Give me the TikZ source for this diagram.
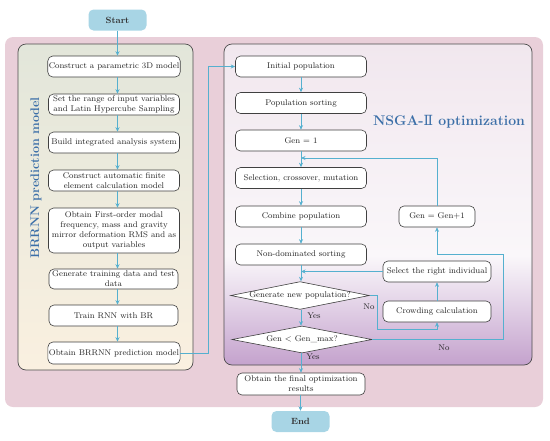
\documentclass[tikz,border=0pt]{standalone}
\usepackage{fontspec}
\newfontfamily\iifont{DejaVu Serif}
\usetikzlibrary{shapes.geometric,arrows.meta}
\definecolor{pinkbg}{HTML}{E9CFD9}
\definecolor{termblue}{HTML}{A8D5E5}
\definecolor{arrblue}{HTML}{55B0CF}
\definecolor{lbltxt}{HTML}{3C6FA8}
\definecolor{lefttop}{HTML}{E2E6DA}
\definecolor{leftbot}{HTML}{FAF0E0}
\definecolor{rtop}{HTML}{F1E7EE}
\definecolor{rmid}{HTML}{FAF7FA}
\definecolor{rbot}{HTML}{C4A2CD}
\colorlet{rlight}{rbot!45!white}
\pgfdeclareverticalshading{nsgashade}{100bp}{color(0bp)=(rbot); color(25bp)=(rbot); color(35bp)=(rlight); color(42bp)=(rmid); color(75bp)=(rtop); color(100bp)=(rtop)}
\begin{document}
\begin{tikzpicture}[x=1pt,y=-1pt,
 box/.style={draw=black!75, line width=0.6pt, rounded corners=5pt, fill=white, minimum width=131pt, minimum height=21pt, align=center, inner sep=1pt, font=\fontsize{8.3}{10}\selectfont, text=black!85},
 term/.style={fill=termblue, rounded corners=5pt, minimum width=58pt, minimum height=21pt, font=\fontsize{9}{10}\selectfont\bfseries, text=black!80},
 dia/.style={diamond, draw=black!75, line width=0.6pt, fill=white, aspect=5, inner sep=0pt, font=\fontsize{8.3}{10}\selectfont, text=black!85},
 arr/.style={draw=arrblue, line width=0.8pt, -{Stealth[length=4.5pt,width=4pt]}},
 lab/.style={font=\fontsize{8.3}{10}\selectfont, text=black!85}]
\useasboundingbox (0,0) rectangle (550,440);
% backgrounds
\fill[pinkbg, rounded corners=8pt] (5,37) rectangle (543,407);
\shadedraw[top color=lefttop, bottom color=leftbot, draw=black!70, line width=0.7pt, rounded corners=8pt] (18,44) rectangle (193,370);
\shadedraw[shading=nsgashade, draw=black!70, line width=0.7pt, rounded corners=8pt] (224,44) rectangle (532,365);
% titles
\node[rotate=90, font=\fontsize{12.5}{14}\selectfont\bfseries, text=lbltxt] (lbl) at (36,178) {BRRNN prediction model};
\node[font=\fontsize{14}{16}\selectfont\bfseries, text=lbltxt] (nl) at (449,122) {NSGA-{\iifont\mdseries Ⅱ} optimization};
% terminals
\node[term] (start) at (117.5,20) {Start};
\node[term] (end) at (300.5,421.5) {End};
% left column
\node[box] (b1) at (114,66.5) {Construct a parametric 3D model};
\node[box] (b2) at (114,104.5) {Set the range of input variables\\and Latin Hypercube Sampling};
\node[box] (b3) at (114,142.5) {Build integrated analysis system};
\node[box] (b4) at (114,180.5) {Construct automatic finite\\element calculation model};
\node[box, minimum height=45pt] (b5) at (114,230.5) {Obtain First-order modal\\frequency, mass and gravity\\mirror deformation RMS and as\\output variables};
\node[box, minimum width=129pt, minimum height=20pt] (b6) at (113.5,279) {Generate training data and test\\data};
\node[box, minimum width=129pt] (b7) at (113.5,315.5) {Train RNN with BR};
\node[box, minimum height=22pt] (b8) at (114,353) {Obtain BRRNN prediction model};
% right column
\node[box] (ip) at (301,66.5) {Initial population};
\node[box] (ps) at (301,103) {Population sorting};
\node[box] (g1) at (301,140.5) {Gen = 1};
\node[box] (sel) at (301,178) {Selection, crossover, mutation};
\node[box] (cp) at (301,216.5) {Combine population};
\node[box] (nd) at (301,254.5) {Non-dominated sorting};
\node[dia, minimum width=136pt, minimum height=27pt] (d1) at (300,295.5) {Generate new population?};
\node[dia, minimum width=140pt, minimum height=27pt] (d2) at (302,339.5) {Gen < Gen\_max?};
\node[box, minimum width=128pt, minimum height=22pt] (fin) at (301,384) {Obtain the final optimization\\results};
\node[box, minimum width=76pt] (gg) at (437,216.5) {Gen = Gen+1};
\node[box, minimum width=108pt] (sr) at (437,271.5) {Select the right individual};
\node[box, minimum width=108pt] (cc) at (437,311.5) {Crowding calculation};
% labels
\node[lab] (yes1) at (314,316) {Yes};
\node[lab] (yes2) at (313,357) {Yes};
\node[lab] (no1) at (369,307) {No};
\node[lab] (no2) at (444,348) {No};
% junction coordinates
\coordinate (k) at (208,66.5);
\coordinate (j1) at (301,158);
\coordinate (j2) at (301,271.5);
\coordinate (a1) at (377,329);
\coordinate (a2) at (503,254);
% left arrows
\draw[arr] (start.south) -- (start.south |- b1.north);
\draw[arr] (b1.south -| start) -- (b2.north -| start);
\draw[arr] (b2.south -| start) -- (b3.north -| start);
\draw[arr] (b3.south -| start) -- (b4.north -| start);
\draw[arr] (b4.south -| start) -- (b5.north -| start);
\draw[arr] (b5.south -| start) -- (b6.north -| start);
\draw[arr] (b6.south -| start) -- (b7.north -| start);
\draw[arr] (b7.south -| start) -- (b8.north -| start);
\draw[arr] (b8.east) -| (k) -- (ip.west);
% right arrows
\draw[arr] (ip.south) -- (ps.north);
\draw[arr] (ps.south) -- (g1.north);
\draw[arr] (g1.south) -- (sel.north);
\draw[arr] (sel.south) -- (cp.north);
\draw[arr] (cp.south) -- (nd.north);
\draw[arr] (nd.south) -- (d1.north -| nd.south);
\draw[arr] (d1.south -| nd.south) -- (d2.north -| nd.south);
\draw[arr] (d2.south -| nd.south) -- (fin.north -| nd.south);
\draw[arr] (fin.south -| end) -- (end.north);
% loops
\draw[arr] (gg.north) |- (j1);
\draw[arr] (sr.west) -- (j2);
\draw[arr] (d1.east) -| (a1) -- (a1 -| cc.south) -- (cc.south);
\draw[arr] (cc.north) -- (sr.south);
\draw[arr] (d2.east) -| (a2) -- (a2 -| gg.south) -- (gg.south);
\end{tikzpicture}
\end{document}
